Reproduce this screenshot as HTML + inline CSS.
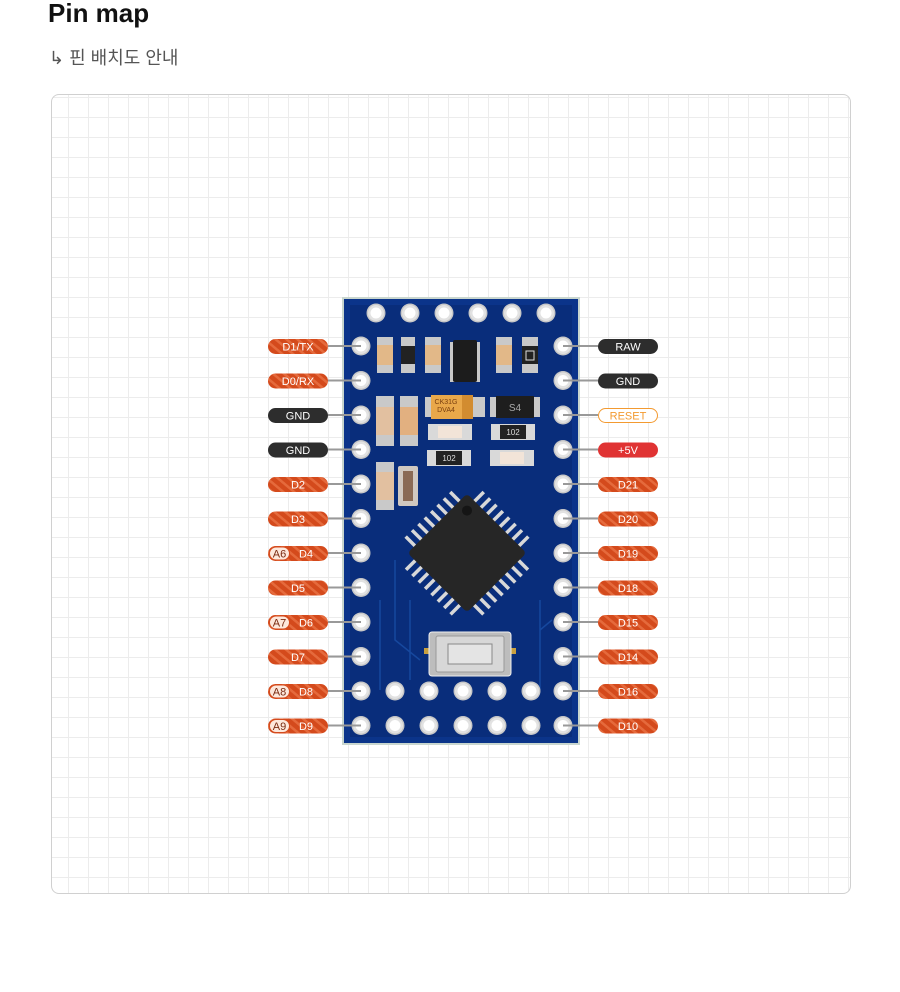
<!DOCTYPE html>
<html><head><meta charset="utf-8">
<style>
body{margin:0;background:#fff;width:900px;height:992px;overflow:hidden;font-family:"Liberation Sans","Noto Sans CJK KR",sans-serif}
h1{position:absolute;left:48px;top:-2px;margin:0;font-size:26px;font-weight:bold;color:#111}
.sub{position:absolute;left:49px;top:44px;font-size:18px;color:#555}
.card{position:absolute;left:51px;top:94px;width:798px;height:798px;border:1px solid #d0d0d0;border-radius:8px;overflow:hidden;
background-image:repeating-linear-gradient(90deg,transparent 0 16px,#ececec 16px 17px,transparent 17px 20px),repeating-linear-gradient(0deg,transparent 0 15px,#ececec 15px 16px,transparent 16px 20px);}
svg{position:absolute;left:0;top:0}
</style></head><body>
<h1>Pin map</h1>
<div class="sub">↳ 핀 배치도 안내</div>
<div class="card"></div>
<svg width="900" height="992" font-family="Liberation Sans, sans-serif">
<defs>
<pattern id="st" width="7" height="7" patternUnits="userSpaceOnUse" patternTransform="rotate(-50)">
<rect width="7" height="7" fill="#d44a1c"/><rect width="2.5" height="7" fill="#e56a3c"/>
</pattern>
<g id="pad"><circle r="9.5" fill="#c8c8c8"/><circle r="8" fill="#e2e2e2"/><circle r="5.5" fill="#fff"/></g>
</defs>
<!-- board -->
<rect x="342" y="297" width="238" height="448" fill="#c9d6cf"/>
<rect x="344" y="299" width="234" height="444" fill="#0b348a"/>
<rect x="350" y="305" width="222" height="432" fill="#082a72" opacity=".6"/>
<g fill="none" stroke="#1a4fa8" stroke-width="1.5" opacity=".8">
<path d="M380 600 L380 690 M395 560 L395 640 L420 660 M540 600 L540 690 M552 620 L540 630 M410 600 L410 680"/>
</g>
<!-- top pads -->
<g><use href="#pad" x="376" y="313"/><use href="#pad" x="410" y="313"/><use href="#pad" x="444" y="313"/><use href="#pad" x="478" y="313"/><use href="#pad" x="512" y="313"/><use href="#pad" x="546" y="313"/></g>
<!-- side pads -->
<g>
<use href="#pad" x="361" y="346"/><use href="#pad" x="361" y="380.5"/><use href="#pad" x="361" y="415"/><use href="#pad" x="361" y="449.5"/><use href="#pad" x="361" y="484"/><use href="#pad" x="361" y="518.5"/><use href="#pad" x="361" y="553"/><use href="#pad" x="361" y="587.5"/><use href="#pad" x="361" y="622"/><use href="#pad" x="361" y="656.5"/><use href="#pad" x="361" y="691"/><use href="#pad" x="361" y="725.5"/>
<use href="#pad" x="563" y="346"/><use href="#pad" x="563" y="380.5"/><use href="#pad" x="563" y="415"/><use href="#pad" x="563" y="449.5"/><use href="#pad" x="563" y="484"/><use href="#pad" x="563" y="518.5"/><use href="#pad" x="563" y="553"/><use href="#pad" x="563" y="587.5"/><use href="#pad" x="563" y="622"/><use href="#pad" x="563" y="656.5"/><use href="#pad" x="563" y="691"/><use href="#pad" x="563" y="725.5"/>
<use href="#pad" x="395" y="691"/><use href="#pad" x="429" y="691"/><use href="#pad" x="463" y="691"/><use href="#pad" x="497" y="691"/><use href="#pad" x="531" y="691"/>
<use href="#pad" x="395" y="725.5"/><use href="#pad" x="429" y="725.5"/><use href="#pad" x="463" y="725.5"/><use href="#pad" x="497" y="725.5"/><use href="#pad" x="531" y="725.5"/>
</g>
<!-- SMD parts -->
<g>
<rect x="377" y="337" width="16" height="36" fill="#c9c9c9"/><rect x="377" y="345" width="16" height="20" fill="#e2b888"/>
<rect x="401" y="337" width="14" height="36" fill="#c9c9c9"/><rect x="401" y="346" width="14" height="18" fill="#222"/>
<rect x="425" y="337" width="16" height="36" fill="#c9c9c9"/><rect x="425" y="345" width="16" height="20" fill="#e2b888"/>
<rect x="450" y="342" width="30" height="40" fill="#c9c9c9"/><rect x="453" y="340" width="24" height="42" rx="2" fill="#1c1c1c"/>
<rect x="496" y="337" width="16" height="36" fill="#c9c9c9"/><rect x="496" y="345" width="16" height="20" fill="#e2b888"/>
<rect x="522" y="337" width="16" height="36" fill="#c9c9c9"/><rect x="522" y="346" width="16" height="18" fill="#222"/><rect x="526" y="351" width="8" height="9" fill="none" stroke="#ddd"/>
<rect x="376" y="396" width="18" height="50" fill="#c9c9c9"/><rect x="376" y="407" width="18" height="28" fill="#e2c0a0"/>
<rect x="400" y="396" width="18" height="50" fill="#c9c9c9"/><rect x="400" y="407" width="18" height="28" fill="#e2b080"/>
<rect x="425" y="397" width="60" height="20" fill="#c9c9c9"/><rect x="431" y="395" width="42" height="24" fill="#e9a84a"/><rect x="462" y="395" width="11" height="24" fill="#d28c30"/>
<text x="446" y="404" font-size="7" fill="#7a4010" text-anchor="middle">CK31G</text><text x="446" y="412" font-size="7" fill="#7a4010" text-anchor="middle">DVA4</text>
<rect x="490" y="397" width="50" height="20" fill="#c9c9c9"/><rect x="496" y="396" width="38" height="22" fill="#1e1e1e"/><text x="515" y="411" font-size="10" fill="#aaa" text-anchor="middle">S4</text>
<rect x="428" y="424" width="44" height="16" fill="#d9d9d9"/><rect x="438" y="426" width="24" height="12" fill="#f2e4d8"/>
<rect x="491" y="424" width="44" height="16" fill="#d9d9d9"/><rect x="500" y="425" width="26" height="14" fill="#222"/><text x="513" y="435" font-size="8" fill="#ddd" text-anchor="middle">102</text>
<rect x="427" y="450" width="44" height="16" fill="#d9d9d9"/><rect x="436" y="451" width="26" height="14" fill="#222"/><text x="449" y="461" font-size="8" fill="#ddd" text-anchor="middle">102</text>
<rect x="490" y="450" width="44" height="16" fill="#d9d9d9"/><rect x="500" y="452" width="24" height="12" fill="#f2e4d8"/>
<rect x="376" y="462" width="18" height="48" fill="#c9c9c9"/><rect x="376" y="472" width="18" height="28" fill="#e2c0a0"/>
<rect x="398" y="466" width="20" height="40" rx="2" fill="#d0c8c0"/><rect x="403" y="471" width="10" height="30" fill="#8a6a55"/>
</g>
<!-- chip -->
<g transform="translate(467,553) rotate(45)">
<g fill="#d8d8d8">
<rect x="-33" y="-55" width="3.5" height="16"/><rect x="-24" y="-55" width="3.5" height="16"/><rect x="-15" y="-55" width="3.5" height="16"/><rect x="-6" y="-55" width="3.5" height="16"/><rect x="3" y="-55" width="3.5" height="16"/><rect x="12" y="-55" width="3.5" height="16"/><rect x="21" y="-55" width="3.5" height="16"/><rect x="30" y="-55" width="3.5" height="16"/>
<rect x="-33" y="39" width="3.5" height="16"/><rect x="-24" y="39" width="3.5" height="16"/><rect x="-15" y="39" width="3.5" height="16"/><rect x="-6" y="39" width="3.5" height="16"/><rect x="3" y="39" width="3.5" height="16"/><rect x="12" y="39" width="3.5" height="16"/><rect x="21" y="39" width="3.5" height="16"/><rect x="30" y="39" width="3.5" height="16"/>
<rect y="-33" x="-55" height="3.5" width="16"/><rect y="-24" x="-55" height="3.5" width="16"/><rect y="-15" x="-55" height="3.5" width="16"/><rect y="-6" x="-55" height="3.5" width="16"/><rect y="3" x="-55" height="3.5" width="16"/><rect y="12" x="-55" height="3.5" width="16"/><rect y="21" x="-55" height="3.5" width="16"/><rect y="30" x="-55" height="3.5" width="16"/>
<rect y="-33" x="39" height="3.5" width="16"/><rect y="-24" x="39" height="3.5" width="16"/><rect y="-15" x="39" height="3.5" width="16"/><rect y="-6" x="39" height="3.5" width="16"/><rect y="3" x="39" height="3.5" width="16"/><rect y="12" x="39" height="3.5" width="16"/><rect y="21" x="39" height="3.5" width="16"/><rect y="30" x="39" height="3.5" width="16"/>
</g>
<rect x="-42" y="-42" width="84" height="84" rx="4" fill="#262626"/>
<circle cx="-30" cy="-30" r="5" fill="#151515"/>
</g>
<!-- button -->
<rect x="424" y="648" width="8" height="6" fill="#c8a040"/><rect x="508" y="648" width="8" height="6" fill="#c8a040"/>
<rect x="429" y="632" width="82" height="44" rx="3" fill="#bdbdbd" stroke="#eee"/>
<rect x="436" y="636" width="68" height="36" rx="2" fill="#d7d7d7" stroke="#999"/>
<rect x="448" y="644" width="44" height="20" fill="#e4e4e4" stroke="#888"/>

<!-- leader lines -->
<g stroke="#999" stroke-width="2">
<path d="M328 346H361M328 380.5H361M328 415H361M328 449.5H361M328 484H361M328 518.5H361M328 553H361M328 587.5H361M328 622H361M328 656.5H361M328 691H361M328 725.5H361"/>
<path d="M563 346H598M563 380.5H598M563 415H598M563 449.5H598M563 484H598M563 518.5H598M563 553H598M563 587.5H598M563 622H598M563 656.5H598M563 691H598M563 725.5H598"/>
</g>
<!-- labels -->
<g font-size="11" fill="#fff" text-anchor="middle">
<rect x="268" y="339" width="60" height="15" rx="7.5" fill="url(#st)"/><text x="298" y="350.5">D1/TX</text>
<rect x="268" y="373.5" width="60" height="15" rx="7.5" fill="url(#st)"/><text x="298" y="385">D0/RX</text>
<rect x="268" y="408" width="60" height="15" rx="7.5" fill="#2d2d2d"/><text x="298" y="419.5">GND</text>
<rect x="268" y="442.5" width="60" height="15" rx="7.5" fill="#2d2d2d"/><text x="298" y="454">GND</text>
<rect x="268" y="477" width="60" height="15" rx="7.5" fill="url(#st)"/><text x="298" y="488.5">D2</text>
<rect x="268" y="511.5" width="60" height="15" rx="7.5" fill="url(#st)"/><text x="298" y="523">D3</text>
<rect x="268" y="546" width="60" height="15" rx="7.5" fill="url(#st)"/><text x="306" y="557.5">D4</text>
<rect x="268" y="580.5" width="60" height="15" rx="7.5" fill="url(#st)"/><text x="298" y="592">D5</text>
<rect x="268" y="615" width="60" height="15" rx="7.5" fill="url(#st)"/><text x="306" y="626.5">D6</text>
<rect x="268" y="649.5" width="60" height="15" rx="7.5" fill="url(#st)"/><text x="298" y="661">D7</text>
<rect x="268" y="684" width="60" height="15" rx="7.5" fill="url(#st)"/><text x="306" y="695.5">D8</text>
<rect x="268" y="718.5" width="60" height="15" rx="7.5" fill="url(#st)"/><text x="306" y="730">D9</text>

<rect x="598" y="339" width="60" height="15" rx="7.5" fill="#2d2d2d"/><text x="628" y="350.5">RAW</text>
<rect x="598" y="373.5" width="60" height="15" rx="7.5" fill="#2d2d2d"/><text x="628" y="385">GND</text>
<rect x="598.5" y="408.5" width="59" height="14" rx="7" fill="#fff" stroke="#f39a30"/><text x="628" y="419.5" fill="#f39a30">RESET</text>
<rect x="598" y="442.5" width="60" height="15" rx="7.5" fill="#e03333"/><text x="628" y="454">+5V</text>
<rect x="598" y="477" width="60" height="15" rx="7.5" fill="url(#st)"/><text x="628" y="488.5">D21</text>
<rect x="598" y="511.5" width="60" height="15" rx="7.5" fill="url(#st)"/><text x="628" y="523">D20</text>
<rect x="598" y="546" width="60" height="15" rx="7.5" fill="url(#st)"/><text x="628" y="557.5">D19</text>
<rect x="598" y="580.5" width="60" height="15" rx="7.5" fill="url(#st)"/><text x="628" y="592">D18</text>
<rect x="598" y="615" width="60" height="15" rx="7.5" fill="url(#st)"/><text x="628" y="626.5">D15</text>
<rect x="598" y="649.5" width="60" height="15" rx="7.5" fill="url(#st)"/><text x="628" y="661">D14</text>
<rect x="598" y="684" width="60" height="15" rx="7.5" fill="url(#st)"/><text x="628" y="695.5">D16</text>
<rect x="598" y="718.5" width="60" height="15" rx="7.5" fill="url(#st)"/><text x="628" y="730">D10</text>
</g>
<g font-size="11" fill="#7a2a10" text-anchor="middle">
<rect x="269.5" y="547" width="20" height="13" rx="6.5" fill="#fde8dc" stroke="#d44a1c"/><text x="279.5" y="557.5">A6</text>
<rect x="269.5" y="616" width="20" height="13" rx="6.5" fill="#fde8dc" stroke="#d44a1c"/><text x="279.5" y="626.5">A7</text>
<rect x="269.5" y="685" width="20" height="13" rx="6.5" fill="#fde8dc" stroke="#d44a1c"/><text x="279.5" y="695.5">A8</text>
<rect x="269.5" y="719.5" width="20" height="13" rx="6.5" fill="#fde8dc" stroke="#d44a1c"/><text x="279.5" y="730">A9</text>
</g>
</svg>
</body></html>
